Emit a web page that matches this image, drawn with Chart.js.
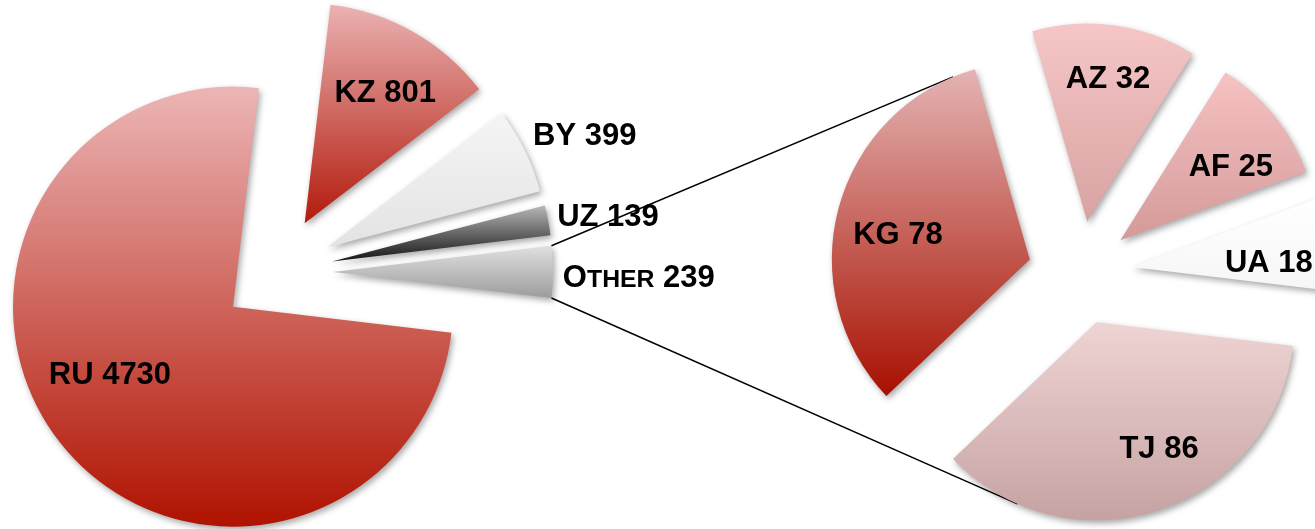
<!DOCTYPE html>
<html>
<head>
<meta charset="utf-8">
<script src="https://cdn.jsdelivr.net/npm/chart.js@4"></script>
<style>
  html, body { margin: 0; padding: 0; background: #fff; overflow: hidden; }
  #wrap { position: relative; width: 1315px; height: 529px; }
  canvas { position: absolute; left: 0; top: 0; }
</style>
</head>
<body>
<div id="wrap">
  <canvas id="a" width="1315" height="529"></canvas>
  <canvas id="b" width="1315" height="529"></canvas>
</div>
<script>
// main pie
const mainLabels = ["RU", "KZ", "BY", "UZ", "Other"];
const mainValues = [4730, 801, 399, 139, 239];
// breakdown of "Other"
const otherLabels = ["KG", "AZ", "AF", "UA", "TJ"];
const otherValues = [78, 32, 25, 18, 86];

// top / bottom colour of each slice gradient
const mainColors = [
  ["#ecb6b6", "#b01200"],
  ["#eab2b2", "#b31a0c"],
  ["#f5f5f5", "#e3e3e3"],
  ["#b8b8b8", "#141414"],
  ["#e0e0e0", "#9c9c9c"]
];
const otherColors = [
  ["#e4b4b4", "#a81000"],
  ["#f6c6c6", "#d8a2a2"],
  ["#f7c2c2", "#d49a9a"],
  ["#ffffff", "#f6f6f6"],
  ["#efd4d4", "#c6a2a2"]
];

// where the labels sit, relative to each exploded slice
const mainPlace = [
  { k: 0.635, turn: 10 },
  { k: 0.704, turn: 1.75 },
  { k: 1.068, turn: -2.7, align: "left" },
  { k: 1.045, turn: -0.9, align: "left" },
  { k: 1.045, turn: 1, align: "left" }
];
const otherPlace = [
  { k: 0.679, turn: -3.85 },
  { k: 0.737, turn: 0.2 },
  { k: 0.675, turn: 4.85 },
  { k: 0.694, turn: 4.15 },
  { k: 0.705, turn: -8.3 }
];

const FONT = "'Liberation Sans', Arial, sans-serif";
const SIZE = 31;

function yRange(arc) {
  const { x, y, startAngle: a0, endAngle: a1, outerRadius: r } = arc;
  const ys = [y, y + r * Math.sin(a0), y + r * Math.sin(a1)];
  for (const t of [Math.PI / 2, -Math.PI / 2]) {
    let k = t;
    while (k < a0) k += 2 * Math.PI;
    while (k - 2 * Math.PI >= a0) k -= 2 * Math.PI;
    if (k <= a1) ys.push(y + r * Math.sin(t));
  }
  return [Math.min(...ys), Math.max(...ys)];
}

function sliceCentre(arc, explode) {
  const mid = (arc.startAngle + arc.endAngle) / 2;
  return [arc.x + Math.cos(mid) * explode, arc.y + Math.sin(mid) * explode];
}

// exploded slices with a vertical gradient and a soft shadow
const pieStyle = {
  id: "pieStyle",
  beforeDatasetDraw(chart, args, opts) {
    const ctx = chart.ctx;
    args.meta.data.forEach((arc, i) => {
      const mid = (arc.startAngle + arc.endAngle) / 2;
      const [y0, y1] = yRange(arc);
      const grad = ctx.createLinearGradient(0, y0, 0, y1);
      grad.addColorStop(0, opts.colors[i][0]);
      grad.addColorStop(1, opts.colors[i][1]);
      ctx.save();
      ctx.translate(Math.cos(mid) * opts.explode, Math.sin(mid) * opts.explode);
      ctx.shadowColor = "rgba(0,0,0,0.35)";
      ctx.shadowBlur = 6;
      ctx.shadowOffsetX = 2;
      ctx.shadowOffsetY = 3;
      const saved = arc.options;
      arc.options = Object.assign({}, saved, { backgroundColor: grad, borderWidth: 0, offset: 0 });
      arc.draw(ctx);
      arc.options = saved;
      ctx.restore();
    });
    return false;
  },
  afterDatasetsDraw(chart, args, opts) {
    const ctx = chart.ctx;
    const labels = chart.data.labels;
    const values = chart.data.datasets[0].data;
    chart.getDatasetMeta(0).data.forEach((arc, i) => {
      const p = opts.place[i];
      const mid = (arc.startAngle + arc.endAngle) / 2;
      const [sx, sy] = sliceCentre(arc, opts.explode);
      const a = mid + (p.turn * Math.PI) / 180;
      const px = sx + Math.cos(a) * arc.outerRadius * p.k;
      const py = sy + Math.sin(a) * arc.outerRadius * p.k;
      drawLabel(ctx, labels[i] + " " + values[i], px, py, p.align || "center");
    });
  }
};

// small caps for lower-case letters, like the original
function drawLabel(ctx, text, x, y, align) {
  const parts = [];
  for (const ch of text) {
    const small = ch !== ch.toUpperCase();
    parts.push({ t: ch.toUpperCase(), s: small ? SIZE * 0.8 : SIZE });
  }
  ctx.save();
  ctx.fillStyle = "#000";
  ctx.textBaseline = "alphabetic";
  ctx.textAlign = "left";
  let w = 0;
  for (const p of parts) {
    ctx.font = "bold " + p.s + "px " + FONT;
    p.w = ctx.measureText(p.t).width;
    w += p.w;
  }
  let cx = align === "left" ? x : x - w / 2;
  const base = y + SIZE * 0.358;
  for (const p of parts) {
    ctx.font = "bold " + p.s + "px " + FONT;
    ctx.fillText(p.t, cx, base);
    cx += p.w;
  }
  ctx.restore();
}

let mainChart = new Chart(document.getElementById("a"), {
  type: "pie",
  data: {
    labels: mainLabels,
    datasets: [{ data: mainValues, borderWidth: 0 }]
  },
  options: {
    responsive: false,
    animation: false,
    events: [],
    rotation: 96.8,
    radius: 220,
    layout: { padding: { left: 0, right: 761, top: 15, bottom: 0 } },
    plugins: {
      legend: { display: false },
      tooltip: { enabled: false },
      pieStyle: { colors: mainColors, explode: 56, place: mainPlace }
    }
  },
  plugins: [pieStyle]
});

// lines from the "Other" slice to the edge of the second pie's first and last slices
const connectors = {
  id: "connectors",
  beforeDatasetsDraw(chart, args, opts) {
    const ctx = chart.ctx;
    const src = mainChart.getDatasetMeta(0).data[mainLabels.indexOf("Other")];
    const [sx, sy] = sliceCentre(src, mainChart.options.plugins.pieStyle.explode);
    const arcs = chart.getDatasetMeta(0).data;
    const ex = chart.options.plugins.pieStyle.explode;
    const ends = [
      [arcs[0], opts.topAngle, src.startAngle],
      [arcs[arcs.length - 1], opts.bottomAngle, src.endAngle]
    ];
    ctx.save();
    ctx.strokeStyle = "#000";
    ctx.lineWidth = 1.5;
    ctx.beginPath();
    for (const [arc, deg, a0] of ends) {
      const [cx, cy] = sliceCentre(arc, ex);
      const a = ((deg - 90) * Math.PI) / 180;
      const r = arc.outerRadius;
      ctx.moveTo(sx + Math.cos(a0) * src.outerRadius, sy + Math.sin(a0) * src.outerRadius);
      ctx.lineTo(cx + Math.cos(a) * r, cy + Math.sin(a) * r);
    }
    ctx.stroke();
    ctx.restore();
  }
};

let otherChart = new Chart(document.getElementById("b"), {
  type: "pie",
  data: {
    labels: otherLabels,
    datasets: [{ data: otherValues, borderWidth: 0 }]
  },
  options: {
    responsive: false,
    animation: false,
    events: [],
    rotation: 226.4,
    radius: 198,
    layout: { padding: { left: 845, right: 0, top: 17, bottom: 0 } },
    plugins: {
      legend: { display: false },
      tooltip: { enabled: false },
      connectors: { topAngle: 337.2, bottomAngle: 203.5 },
      pieStyle: { colors: otherColors, explode: 52, place: otherPlace }
    }
  },
  plugins: [connectors, pieStyle]
});
</script>
</body>
</html>
